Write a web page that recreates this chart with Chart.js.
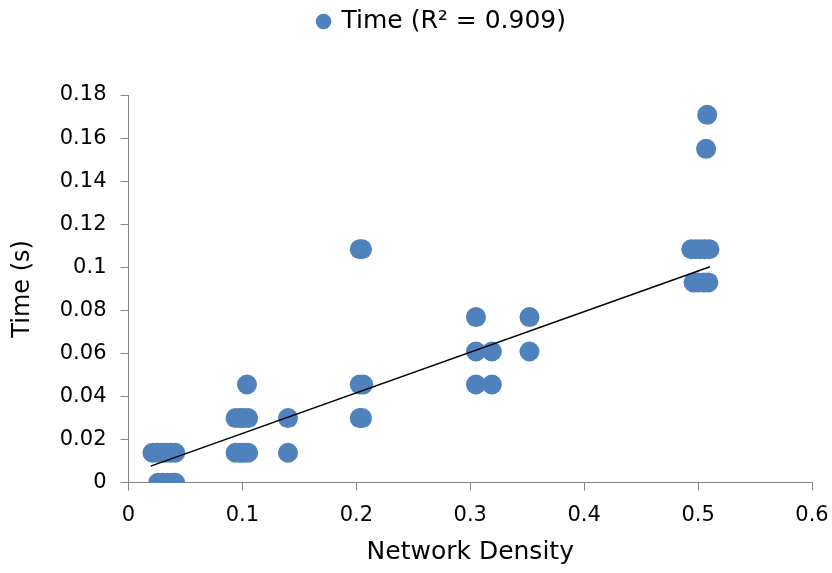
<!DOCTYPE html>
<html>
<head>
<meta charset="utf-8">
<title>Time vs Network Density</title>
<script src="https://cdn.jsdelivr.net/npm/chart.js@4.4.0/dist/chart.umd.min.js"></script>
<style>
    html, body { margin: 0; padding: 0; background: #fff; }
    #wrap { width: 832px; height: 573px; }
</style>
</head>
<body>
<div id="wrap"><canvas id="scatter-chart" width="832" height="573"></canvas></div>
<script>
// measured runs: network density and the time each run took (s)
var density = [
    0.026, 0.030, 0.034, 0.038, 0.041,
    0.021, 0.025, 0.029, 0.033, 0.037, 0.041, 0.094, 0.098, 0.101, 0.105, 0.140,
    0.094, 0.098, 0.101, 0.105, 0.140, 0.203, 0.205,
    0.104, 0.203, 0.206, 0.305, 0.319,
    0.305, 0.319, 0.352,
    0.305, 0.352,
    0.496, 0.500, 0.505, 0.509,
    0.203, 0.205, 0.494, 0.498, 0.502, 0.506, 0.510,
    0.507,
    0.508
];
var time = [
    0, 0, 0, 0, 0,
    0.0139, 0.0139, 0.0139, 0.0139, 0.0139, 0.0139, 0.0139, 0.0139, 0.0139, 0.0139, 0.0139,
    0.0300, 0.0300, 0.0300, 0.0300, 0.0300, 0.0300, 0.0300,
    0.0456, 0.0456, 0.0456, 0.0456, 0.0456,
    0.0609, 0.0609, 0.0609,
    0.0769, 0.0769,
    0.0930, 0.0930, 0.0930, 0.0930,
    0.1084, 0.1084, 0.1084, 0.1084, 0.1084, 0.1084, 0.1084,
    0.1550,
    0.1708
];

// linear trendline
var trendSlope = 0.1886;
var trendIntercept = 0.0040;
var trendX = [0.0195, 0.5105];

var xTicks = [0, 0.1, 0.2, 0.3, 0.4, 0.5, 0.6];
var yTicks = [0, 0.02, 0.04, 0.06, 0.08, 0.1, 0.12, 0.14, 0.16, 0.18];

var seriesLabel = 'Time (R² = 0.909)';
var xTitle = 'Network Density';
var yTitle = 'Time (s)';

var points = density.map(function (d, i) {
    return { x: d, y: time[i] };
});
var trendPoints = trendX.map(function (x) {
    return { x: x, y: trendSlope * x + trendIntercept };
});

var axisColor = '#868686';
var fontFamily = '"DejaVu Sans", sans-serif';

// extra room between the legend and the plot, legend nudged over the plot centre
var legendSpace = {
    id: 'legendSpace',
    beforeInit: function (chart) {
        var fit = chart.legend.fit;
        chart.legend.fit = function () {
            fit.call(this);
            this.height += 51;
        };
    },
    afterLayout: function (chart) {
        chart.legend.left += 12;
        chart.legend.right += 12;
    }
};

// let the end tick labels hang over the layout padding
function noLabelPadding(scale) {
    scale.paddingLeft = 0;
    scale.paddingRight = 0;
    scale.paddingTop = 0;
    scale.paddingBottom = 0;
}

var ctx = document.getElementById('scatter-chart');
var chart = new Chart(ctx, {
    type: 'scatter',
    data: {
        datasets: [{
            label: seriesLabel,
            data: points,
            backgroundColor: '#4F81BD',
            borderColor: '#4F81BD',
            borderWidth: 0,
            pointRadius: 10,
            pointHoverRadius: 10,
            pointStyle: 'circle',
            order: 2
        }, {
            type: 'line',
            label: 'Linear (Time)',
            data: trendPoints,
            borderColor: '#000',
            borderWidth: 1.5,
            pointRadius: 0,
            showLine: true,
            fill: false,
            order: 1
        }]
    },
    options: {
        responsive: false,
        animation: false,
        layout: { padding: { left: 48, right: 20, top: 0, bottom: 0 } },
        plugins: {
            legend: {
                position: 'top',
                labels: {
                    usePointStyle: true,
                    boxWidth: 11,
                    boxHeight: 11,
                    padding: 9,
                    color: '#000',
                    font: { family: fontFamily, size: 25 },
                    filter: function (item) { return item.datasetIndex === 0; }
                }
            },
            tooltip: { enabled: false }
        },
        scales: {
            x: {
                type: 'linear',
                min: xTicks[0],
                max: xTicks[xTicks.length - 1],
                afterBuildTicks: function (scale) {
                    scale.ticks = xTicks.map(function (v) { return { value: v }; });
                },
                afterFit: function (scale) {
                    scale.height = 90.3;
                    noLabelPadding(scale);
                },
                ticks: {
                    color: '#000',
                    padding: 12,
                    maxRotation: 0,
                    font: { family: fontFamily, size: 21 },
                    callback: function (v) { return String(Math.round(v * 10) / 10); }
                },
                grid: { drawOnChartArea: false, drawTicks: true, tickLength: 8, color: axisColor },
                border: { display: true, color: axisColor, width: 1 },
                title: {
                    display: true,
                    text: xTitle,
                    color: '#000',
                    padding: { top: 0, bottom: 6 },
                    font: { family: fontFamily, size: 25 }
                }
            },
            y: {
                type: 'linear',
                min: yTicks[0],
                max: yTicks[yTicks.length - 1],
                afterBuildTicks: function (scale) {
                    scale.ticks = yTicks.map(function (v) { return { value: v }; });
                },
                afterFit: function (scale) {
                    scale.width = 80.5;
                    noLabelPadding(scale);
                },
                ticks: {
                    color: '#000',
                    padding: 14,
                    font: { family: fontFamily, size: 21 },
                    callback: function (v) { return String(Math.round(v * 100) / 100); }
                },
                grid: { drawOnChartArea: false, drawTicks: true, tickLength: 8, color: axisColor },
                border: { display: true, color: axisColor, width: 1 },
                title: {
                    display: true,
                    text: yTitle,
                    color: '#000',
                    padding: { top: -40, bottom: 0 },
                    font: { family: fontFamily, size: 24 }
                }
            }
        }
    },
    plugins: [legendSpace]
});
</script>
</body>
</html>
